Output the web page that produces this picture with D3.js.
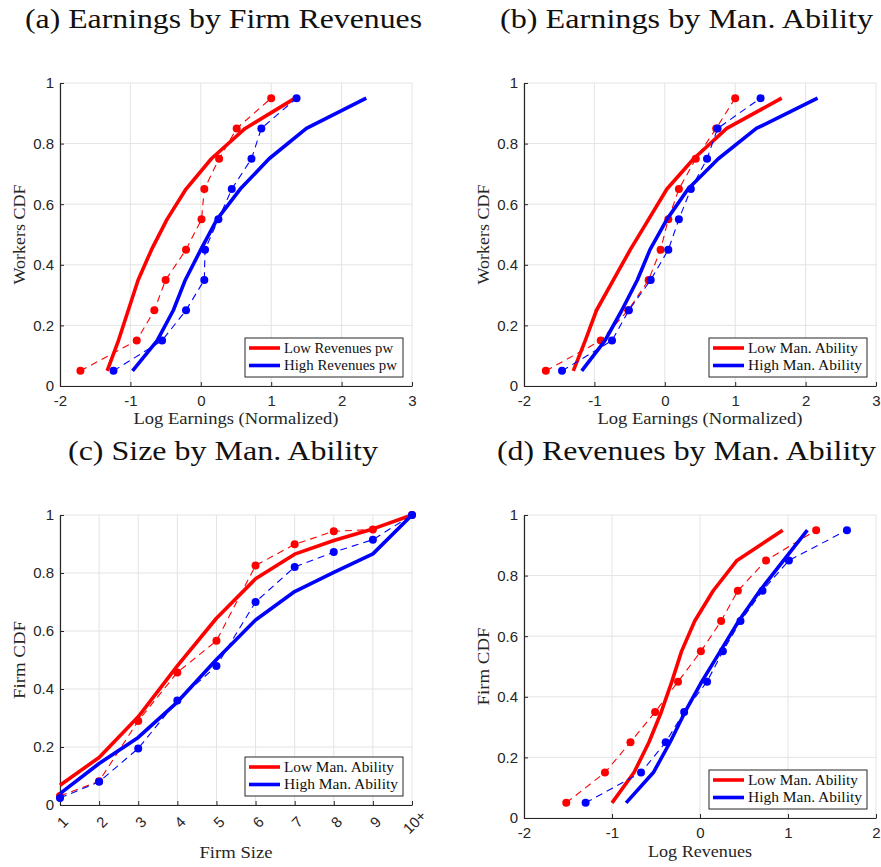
<!DOCTYPE html>
<html><head><meta charset="utf-8">
<script src="https://cdn.jsdelivr.net/npm/d3@7"></script>
<style>body{margin:0;background:#fff}</style>
</head><body>
<svg id="chart" width="881" height="867"></svg>
<script>
// ---- data ----
const cdfLevels = [0.05,0.15,0.25,0.35,0.45,0.55,0.65,0.75,0.85,0.95];

// (a) Earnings by Firm Revenues
const aLowModel  = [-1.33,-1.17,-1.03,-0.89,-0.70,-0.48,-0.21,0.15,0.63,1.34];
const aLowData   = [-1.71,-0.91,-0.66,-0.50,-0.21,0.01,0.05,0.26,0.51,1.00];
const aHighModel = [-0.97,-0.62,-0.39,-0.22,0.00,0.23,0.56,0.97,1.50,2.35];
const aHighData  = [-1.24,-0.55,-0.21,0.05,0.06,0.25,0.44,0.72,0.86,1.36];

// (b) Earnings by Man. Ability
const bLowModel  = [-1.30,-1.13,-0.97,-0.73,-0.49,-0.23,0.03,0.41,0.88,1.66];
const bLowData   = [-1.69,-0.91,-0.52,-0.23,-0.06,0.05,0.20,0.44,0.73,1.00];
const bHighModel = [-1.18,-0.85,-0.61,-0.39,-0.21,0.03,0.33,0.76,1.30,2.17];
const bHighData  = [-1.46,-0.75,-0.51,-0.20,0.05,0.20,0.37,0.60,0.75,1.36];

// (c) Size by Man. Ability
const sizeCats   = ["1","2","3","4","5","6","7","8","9","10+"];
const cLowModel  = [0.068,0.164,0.304,0.480,0.644,0.780,0.865,0.912,0.952,1.0];
const cLowData   = [0.031,0.082,0.290,0.457,0.566,0.826,0.899,0.944,0.950,1.0];
const cHighModel = [0.039,0.143,0.233,0.355,0.502,0.638,0.736,0.802,0.866,1.0];
const cHighData  = [0.024,0.080,0.195,0.360,0.479,0.700,0.821,0.872,0.915,1.0];

// (d) Revenues by Man. Ability
const dLowModel  = [-1.00,-0.75,-0.58,-0.44,-0.32,-0.21,-0.06,0.15,0.42,0.94];
const dLowData   = [-1.52,-1.08,-0.79,-0.51,-0.25,0.01,0.24,0.43,0.75,1.32];
const dHighModel = [-0.84,-0.53,-0.34,-0.17,0.02,0.23,0.44,0.68,0.95,1.22];
const dHighData  = [-1.30,-0.67,-0.39,-0.18,0.08,0.26,0.46,0.71,1.01,1.67];

const yTicks = [0,0.2,0.4,0.6,0.8,1];
const earnTicks = [-2,-1,0,1,2,3];
const revTicks = [-2,-1,0,1,2];

const titles = ["(a) Earnings by Firm Revenues","(b) Earnings by Man. Ability","(c) Size by Man. Ability","(d) Revenues by Man. Ability"];
const legendRevenue = ["Low Revenues pw","High Revenues pw"];
const legendAbility = ["Low Man. Ability","High Man. Ability"];

// ---- drawing ----
const svg = d3.select("#chart");
const RED = "#ff0000", BLUE = "#0000ff";
const AX = "#262626", GRID = "#e3e3e3";
const SERIF = "'Liberation Serif','DejaVu Serif',serif";
const SANS = "'Liberation Sans',Arial,sans-serif";

function fitText(sel, w){ sel.attr("textLength", w).attr("lengthAdjust","spacingAndGlyphs"); }

function panel(cfg){
  const g = svg.append("g");
  const {L,R,T,B} = cfg;
  const x = cfg.cat
    ? d3.scalePoint().domain(cfg.xDomain).range([L,R])
    : d3.scaleLinear().domain(cfg.xDomain).range([L,R]);
  const y = d3.scaleLinear().domain([0,1]).range([B,T]);

  // grid
  const gx = g.append("g");
  gx.selectAll("line.v").data(cfg.xTicks).join("line")
    .attr("x1",d=>x(d)).attr("x2",d=>x(d)).attr("y1",T).attr("y2",B)
    .attr("stroke",GRID).attr("stroke-width",1);
  gx.selectAll("line.h").data(yTicks).join("line")
    .attr("x1",L).attr("x2",R).attr("y1",d=>y(d)).attr("y2",d=>y(d))
    .attr("stroke",GRID).attr("stroke-width",1);

  // axes
  const xAxis = (cfg.cat ? d3.axisBottom(x) : d3.axisBottom(x).tickValues(cfg.xTicks).tickFormat(d=>String(d)))
    .tickSizeInner(-4).tickSizeOuter(0).tickPadding(9);
  const xa = g.append("g").attr("transform",`translate(0,${B})`).call(xAxis);
  xa.select(".domain").attr("stroke",AX).attr("stroke-width",1.2);
  xa.selectAll(".tick line").attr("stroke",AX);
  xa.selectAll(".tick text").attr("fill",AX).style("font-family",SANS).style("font-size","15px");
  if(cfg.cat){
    xa.selectAll(".tick text")
      .attr("text-anchor","middle").attr("dy",null).attr("y",null)
      .attr("transform","translate(3,18) rotate(-45)")
      .attr("dominant-baseline","middle");
  }

  const yAxis = d3.axisLeft(y).tickValues(yTicks).tickFormat(d=>d===0?"0":d===1?"1":d3.format(".1f")(d))
    .tickSizeInner(-4).tickSizeOuter(0).tickPadding(6);
  const ya = g.append("g").attr("transform",`translate(${L},0)`).call(yAxis);
  ya.select(".domain").attr("stroke",AX).attr("stroke-width",1.2);
  ya.selectAll(".tick line").attr("stroke",AX);
  ya.selectAll(".tick text").attr("fill",AX).style("font-family",SANS).style("font-size","15px");

  // series
  const line = d3.line();
  cfg.series.forEach(s=>{
    const pts = s.x.map((v,i)=>[x(v), y(s.y[i])]);
    if(s.solid){
      g.append("path").attr("d",line(pts)).attr("fill","none")
        .attr("stroke",s.color).attr("stroke-width",3.6).attr("stroke-linejoin","round");
    } else {
      g.append("path").attr("d",line(pts)).attr("fill","none")
        .attr("stroke",s.color).attr("stroke-width",1.1).attr("stroke-dasharray","7,5");
      g.selectAll(null).data(pts).join("circle")
        .attr("cx",d=>d[0]).attr("cy",d=>d[1]).attr("r",4).attr("fill",s.color);
    }
  });

  // title
  fitText(svg.append("text").attr("x",cfg.titleX).attr("y",cfg.titleY).attr("text-anchor","middle")
    .style("font-family",SERIF).style("font-size","28px").attr("fill","#111").text(cfg.title), cfg.titleW);

  // axis labels
  fitText(g.append("text").attr("x",(L+R)/2).attr("y",cfg.xLabelY).attr("text-anchor","middle")
    .style("font-family",SERIF).style("font-size","17px").attr("fill",AX).text(cfg.xLabel), cfg.xLabelW);
  fitText(g.append("text").attr("transform",`translate(${L-35},${(T+B)/2}) rotate(-90)`).attr("text-anchor","middle")
    .style("font-family",SERIF).style("font-size","17px").attr("fill",AX).text(cfg.yLabel), cfg.yLabelW);

  // legend
  const lw = 158, lh = 39;
  const lx = R - 9 - lw, ly = B - 9 - lh;
  const lg = g.append("g");
  lg.append("rect").attr("x",lx).attr("y",ly).attr("width",lw).attr("height",lh)
    .attr("fill","#fff").attr("stroke",AX).attr("stroke-width",1);
  cfg.legend.forEach((t,i)=>{
    const yy = ly + 10 + i*17.5;
    lg.append("line").attr("x1",lx+4).attr("x2",lx+35).attr("y1",yy).attr("y2",yy)
      .attr("stroke",i===0?RED:BLUE).attr("stroke-width",3.6);
    fitText(lg.append("text").attr("x",lx+39).attr("y",yy+4.5)
      .style("font-family",SERIF).style("font-size","14px").attr("fill","#111").text(t), cfg.legW[i]);
  });
}

function mk(low, lowD, high, highD, yv){
  return [
    {x:low, y:yv, color:RED, solid:true},
    {x:lowD, y:yv, color:RED, solid:false},
    {x:high, y:yv, color:BLUE, solid:true},
    {x:highD, y:yv, color:BLUE, solid:false}
  ];
}
function mkc(low, lowD, high, highD){
  return [
    {x:sizeCats, y:low, color:RED, solid:true},
    {x:sizeCats, y:lowD, color:RED, solid:false},
    {x:sizeCats, y:high, color:BLUE, solid:true},
    {x:sizeCats, y:highD, color:BLUE, solid:false}
  ];
}

panel({L:60,R:412,T:83,B:386, xDomain:[-2,3], xTicks:earnTicks,
  series: mk(aLowModel,aLowData,aHighModel,aHighData,cdfLevels),
  title:titles[0], titleX:223.5, titleY:28, titleW:397,
  xLabel:"Log Earnings (Normalized)", xLabelY:424, xLabelW:205,
  yLabel:"Workers CDF", yLabelW:100, legend:legendRevenue, legW:[109,113]});

panel({L:524,R:876,T:83,B:386, xDomain:[-2,3], xTicks:earnTicks,
  series: mk(bLowModel,bLowData,bHighModel,bHighData,cdfLevels),
  title:titles[1], titleX:686.5, titleY:28, titleW:373,
  xLabel:"Log Earnings (Normalized)", xLabelY:424, xLabelW:205,
  yLabel:"Workers CDF", yLabelW:100, legend:legendAbility, legW:[110,114]});

panel({L:60,R:412,T:515,B:805, cat:true, xDomain:sizeCats, xTicks:sizeCats,
  series: mkc(cLowModel,cLowData,cHighModel,cHighData),
  title:titles[2], titleX:223, titleY:460, titleW:310,
  xLabel:"Firm Size", xLabelY:858, xLabelW:73,
  yLabel:"Firm CDF", yLabelW:78, legend:legendAbility, legW:[110,114]});

panel({L:524,R:876,T:515,B:818, xDomain:[-2,2], xTicks:revTicks,
  series: mk(dLowModel,dLowData,dHighModel,dHighData,cdfLevels),
  title:titles[3], titleX:686.5, titleY:460, titleW:379,
  xLabel:"Log Revenues", xLabelY:857, xLabelW:104,
  yLabel:"Firm CDF", yLabelW:78, legend:legendAbility, legW:[110,114]});
</script>
</body></html>
